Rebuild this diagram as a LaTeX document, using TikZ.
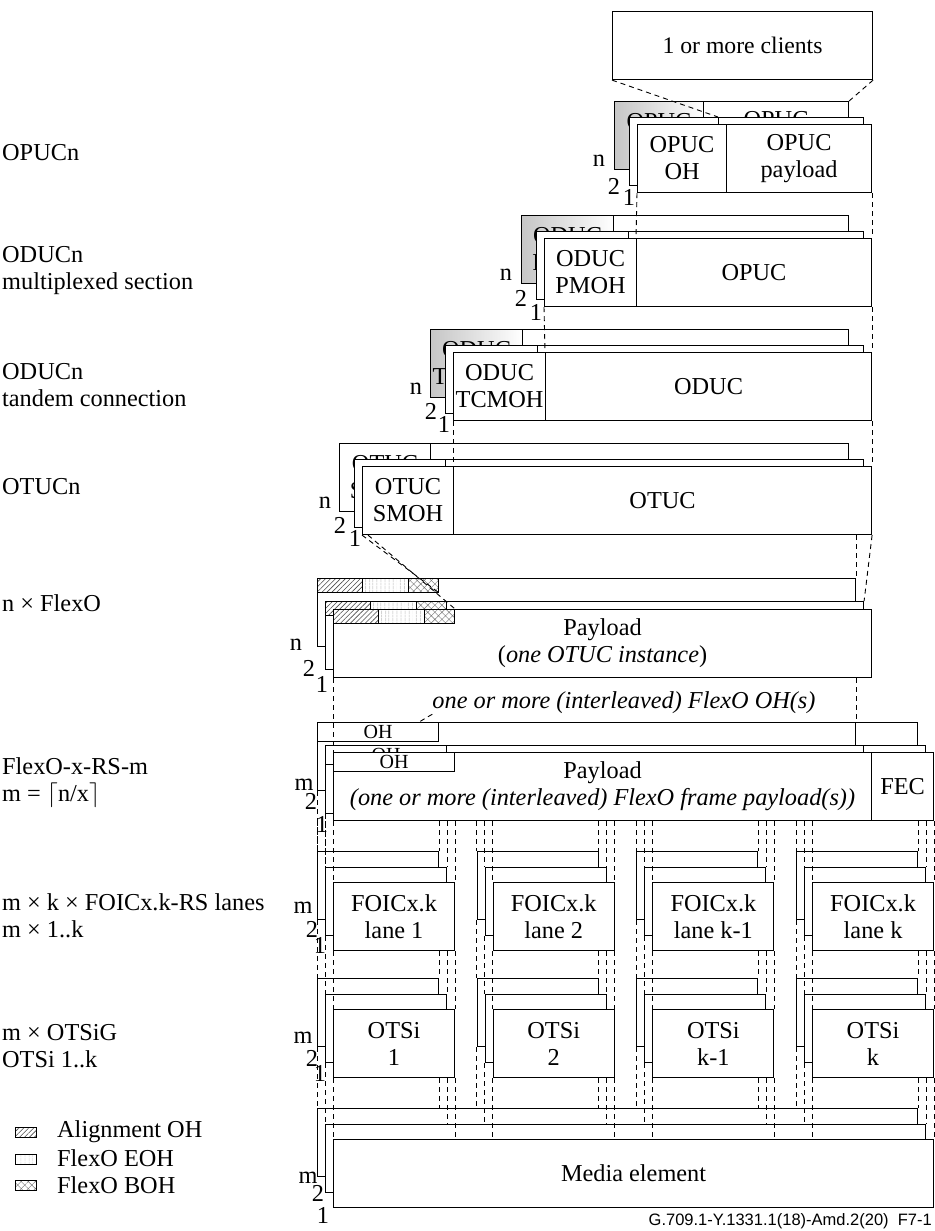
\documentclass[tikz,border=0pt]{standalone}
\usepackage{fontspec}
\setmainfont{Liberation Serif}
\newfontfamily\sansf{Liberation Sans}
\usetikzlibrary{patterns.meta}
\newcommand\lblfont{\fontsize{24.3}{27}\selectfont}
\newcommand\ohfont{\fontsize{20}{22}\selectfont}
\newcommand\splay[8][]{%
  \node[box,#1,minimum width={#5-#3},minimum height=68] (#2-oh) at (#3,#4) {#7};
  \node[box,minimum width={#6-#5},minimum height=68] (#2-pl) at (#5,#4) {#8};}
\newcommand\fstrip[3]{%
  \node[box,alignp,minimum width=45,minimum height=14] (#1-a) at (#2,#3) {};
  \node[box,eohp,minimum width=46,minimum height=14] (#1-e) at (#2+45,#3) {};
  \node[box,bohp,minimum width=30,minimum height=14] (#1-o) at (#2+91,#3) {};}
\tikzset{
  box/.style={draw, fill=white, line width=1.1pt, inner sep=0pt, anchor=north west, align=center, font=\lblfont},
  lab/.style={anchor=west, align=left, font=\lblfont, inner sep=0pt},
  num/.style={font=\lblfont, inner sep=0pt},
  dline/.style={dash pattern=on 5pt off 4pt, line width=0.9pt},
  shadeoh/.style={left color=gray!45, right color=white},
  alignp/.style={preaction={fill=white}, pattern={Lines[angle=45,distance=3.5pt,line width=0.6pt]}, pattern color=black!70},
  eohp/.style={preaction={fill=white}, pattern={Lines[angle=90,distance=4pt,line width=0.4pt]}, pattern color=black!35},
  bohp/.style={preaction={fill=white}, pattern={Hatch[angle=45,distance=5pt,line width=0.4pt]}, pattern color=black!55},
}
\begin{document}
\begin{tikzpicture}[x=1pt,y=-1pt]
\path[use as bounding box, fill=white] (0,0) rectangle (934,1231);

% left labels
\node[lab] (l1) at (2,153) {OPUCn};
\node[lab] (l2) at (2,271) {ODUCn\\multiplexed section};
\node[lab] (l3) at (2,385) {ODUCn\\tandem connection};
\node[lab] (l4) at (2,487) {OTUCn};
\node[lab] (l5) at (2,603) {n × FlexO};
\node[lab] (l6) at (2,783) {FlexO-x-RS-m\\m = $\lceil$n/x$\rceil$};
\node[lab] (l7) at (2,916) {m × k × FOICx.k-RS lanes\\m × 1..k};
\node[lab] (l8) at (2,1046) {m × OTSiG\\OTSi 1..k};

% clients
\node[box, font=\fontsize{23.7}{26}\selectfont, minimum width=260, minimum height=68] (clients) at (612,11) {1 or more clients};

% OPUC stack
\splay[shadeoh]{opb}{614}{101}{703}{848}{OPUC\\OH}{OPUC\\payload}
\splay{opm}{629}{117}{718}{863}{}{}
\splay{opf}{637}{124}{726}{871}{OPUC\\OH}{OPUC\\payload}
% ODUC PM
\splay[shadeoh]{pmb}{521}{215}{613}{848}{ODUC\\PMOH}{OPUC}
\splay{pmm}{536}{231}{628}{863}{}{}
\splay{pmf}{544}{238}{636}{871}{ODUC\\PMOH}{OPUC}
% ODUC TC
\splay[shadeoh]{tcb}{430}{329}{522}{848}{ODUC\\TCMOH}{ODUC}
\splay{tcm}{445}{345}{537}{863}{}{}
\splay{tcf}{453}{352}{545}{871}{ODUC\\TCMOH}{ODUC}
% OTUC
\splay{otb}{339}{443}{430}{848}{OTUC\\SMOH}{OTUC}
\splay{otm}{354}{459}{445}{863}{}{}
\splay{otf}{362}{466}{453}{871}{OTUC\\SMOH}{OTUC}

% FlexO
\node[box,minimum width=538,minimum height=68] (flb) at (317,578) {};
\fstrip{flb}{317}{578}
\node[box,minimum width=538,minimum height=68] (flm) at (325,601) {};
\fstrip{flm}{325}{601}
\node[box,minimum width=538,minimum height=68] (flf) at (333,609) {Payload\\(\textit{one OTUC instance})};
\fstrip{flf}{333}{609}

% FlexO-x-RS
\node[font=\lblfont\itshape, inner sep=0pt] (ohlbl) at (624,703) {one or more (interleaved) FlexO OH(s)};
\node[box,minimum width=538,minimum height=68] (xrsb-pl) at (317,722) {};
\node[box,minimum width=62,minimum height=68] (xrsb-fec) at (855,722) {};
\node[box,font=\ohfont,minimum width=121,minimum height=19] (xrsb-oh) at (317,722) {OH};
\node[box,minimum width=538,minimum height=68] (xrsm-pl) at (325,745) {};
\node[box,minimum width=62,minimum height=68] (xrsm-fec) at (863,745) {};
\node[box,font=\ohfont,minimum width=121,minimum height=19] (xrsm-oh) at (325,745) {OH};
\node[box,minimum width=538,minimum height=68] (xrsf-pl) at (333,752) {\rule{0pt}{14pt}Payload\\\textit{(one or more (interleaved) FlexO frame payload(s))}};
\node[box,minimum width=62,minimum height=68] (xrsf-fec) at (871,752) {FEC};
\node[box,font=\ohfont,minimum width=121,minimum height=19] (xrsf-oh) at (333,752) {OH};

% FOIC and OTSi groups
\foreach \g/\t in {0/1,1/2,2/k-1,3/k}{
  \pgfmathsetmacro\Lf{333+159.67*\g}
  \node[box,minimum width=121,minimum height=68] (fo\g-b) at (\Lf-16,851) {};
  \node[box,minimum width=121,minimum height=68] (fo\g-m) at (\Lf-8,867) {};
  \node[box,minimum width=121,minimum height=68] (fo\g-f) at (\Lf,882) {FOICx.k\\lane \t};
  \node[box,minimum width=121,minimum height=68] (ot\g-b) at (\Lf-16,978) {};
  \node[box,minimum width=121,minimum height=68] (ot\g-m) at (\Lf-8,994) {};
  \node[box,minimum width=121,minimum height=68] (ot\g-f) at (\Lf,1009) {OTSi\\\t};
}

% Media
\node[box,minimum width=600,minimum height=68] (me-b) at (317,1108) {};
\node[box,minimum width=600,minimum height=68] (me-m) at (325,1124) {};
\node[box,minimum width=600,minimum height=68] (me-f) at (333,1139) {Media element};

% dashed connectors, upper part
\draw[dline] (clients.south west) -- (opm-pl.north west);
\draw[dline] (clients.south east) -- (opb-pl.north east);
\draw[dline] (opf-oh.south west) -- (pmf-pl.north west);
\draw[dline] (opf-pl.south east) -- (pmf-pl.north east);
\draw[dline] (pmf-oh.south west) -- (tcf-pl.north west);
\draw[dline] (pmf-pl.south east) -- (tcf-pl.north east);
\draw[dline] (tcf-oh.south west) -- (otf-pl.north west);
\draw[dline] (tcf-pl.south east) -- (otf-pl.north east);
\draw[dline] (otf-oh.south west) -- (flb-o.south east);
\draw[dline] ([xshift=6pt]otf-oh.south west) -- (flf-o.north east);
\draw[dline] (otf-pl.south east) -- (flm.north east);
\draw[dline] (flb.north east |- otf-pl.south) -- (flb.north east);
\draw[dline] (flf.south west) -- (xrsf-pl.north west);
\draw[dline] (xrsb-pl.north east |- flf.south) -- (xrsb-pl.north east);
\draw[dline] (ohlbl.south west) -- ([xshift=-20pt]xrsb-oh.north east);

% dashed connectors, lanes
\draw[dline] (xrsb-pl.south west) -- (fo0-b.north west);
\draw[dline] (xrsm-pl.south west) -- (fo0-m.north west);
\foreach \g in {0,1,2,3}{
  \foreach \j in {b,m,f}{
    \draw[dline] (fo\g-\j.north west |- xrsf-pl.south) -- (fo\g-\j.north west);
    \draw[dline] (fo\g-\j.north east |- xrsf-pl.south) -- (fo\g-\j.north east);
    \draw[dline] (fo\g-\j.south west) -- (ot\g-\j.north west);
    \draw[dline] (fo\g-\j.south east |- fo\g-f.south) -- (ot\g-\j.north east);
    \draw[dline] (ot\g-\j.south west) -- (ot\g-\j.south west |- me-\j.north);
    \draw[dline] (ot\g-\j.south east |- ot\g-f.south) -- (ot\g-\j.south east |- me-\j.north);
  }
}

% layer numbers
\node[num] (n1a) at (599,161) {n};
\node[num] (n1b) at (614,186) {2};
\node[num] (n1c) at (629,197) {1};
\node[num] (n2a) at (506,275) {n};
\node[num] (n2b) at (521,298) {2};
\node[num] (n2c) at (536,312) {1};
\node[num] (n3a) at (416,389) {n};
\node[num] (n3b) at (431,411) {2};
\node[num] (n3c) at (444,424) {1};
\node[num] (n4a) at (325,503) {n};
\node[num] (n4b) at (340,525) {2};
\node[num] (n4c) at (355,538) {1};
\node[num] (n5a) at (296,645) {n};
\node[num] (n5b) at (309,668) {2};
\node[num] (n5c) at (322,684) {1};
\node[num] (n6a) at (304,785) {m};
\node[num] (n6b) at (311,801) {2};
\node[num] (n6c) at (322,824) {1};
\node[num] (n7a) at (303,908) {m};
\node[num] (n7b) at (312,929) {2};
\node[num] (n7c) at (320,945) {1};
\node[num] (n8a) at (303,1038) {m};
\node[num] (n8b) at (312,1058) {2};
\node[num] (n8c) at (320,1073) {1};
\node[num] (n9a) at (308,1178) {m};
\node[num] (n9b) at (318,1193) {2};
\node[num] (n9c) at (323,1215) {1};

% legend
\node[box,alignp,minimum width=21,minimum height=10,line width=0.7pt] (lg1) at (15,1127) {};
\node[box,eohp,minimum width=21,minimum height=10,line width=0.7pt] (lg2) at (15,1154) {};
\node[box,bohp,minimum width=21,minimum height=10,line width=0.7pt] (lg3) at (15,1180) {};
\node[lab] (lt1) at (57,1132) {Alignment OH};
\node[lab] (lt2) at (57,1158) {FlexO EOH};
\node[lab] (lt3) at (57,1185) {FlexO BOH};

% footer
\node[anchor=east, inner sep=0pt, font=\sansf\fontsize{16.5}{18}\selectfont] (foot) at (932,1221) {G.709.1-Y.1331.1(18)-Amd.2(20)\ \ F7-1};
\end{tikzpicture}
\end{document}
